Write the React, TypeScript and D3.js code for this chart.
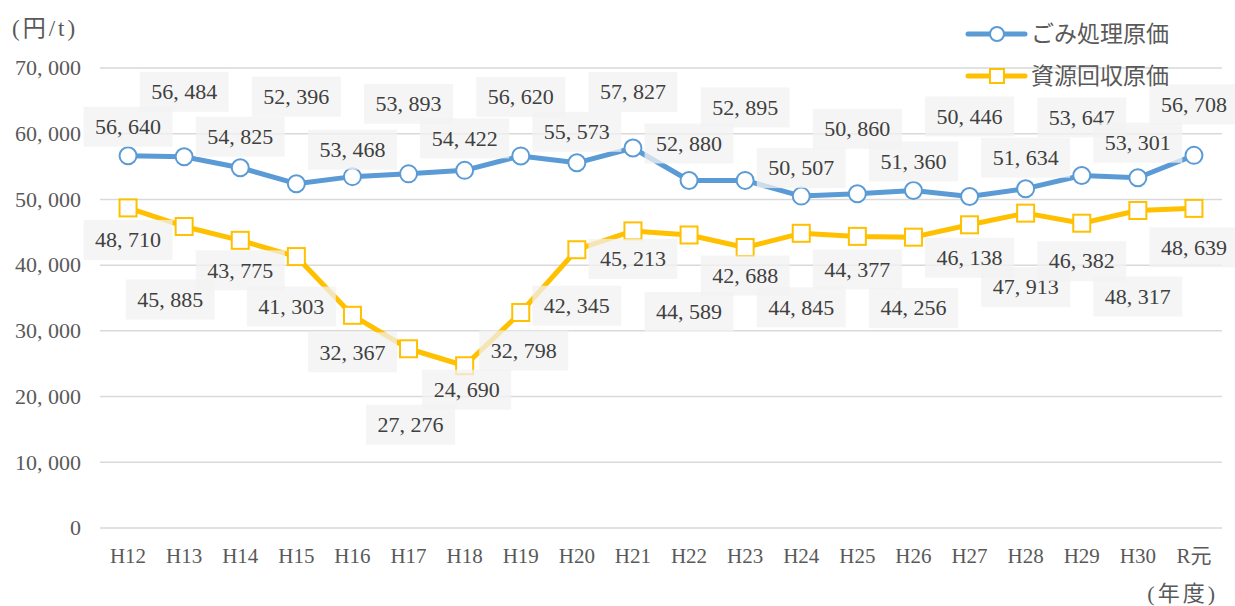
import React, { useEffect, useRef } from 'react';
import * as d3 from 'd3';

const categories = ['H12', 'H13', 'H14', 'H15', 'H16', 'H17', 'H18', 'H19', 'H20', 'H21', 'H22', 'H23', 'H24', 'H25', 'H26', 'H27', 'H28', 'H29', 'H30', 'R元'];
const gomiCost = [56640, 56484, 54825, 52396, 53468, 53893, 54422, 56620, 55573, 57827, 52880, 52895, 50507, 50860, 51360, 50446, 51634, 53647, 53301, 56708];
const shigenCost = [48710, 45885, 43775, 41303, 32367, 27276, 24690, 32798, 42345, 45213, 44589, 42688, 44845, 44377, 44256, 46138, 47913, 46382, 48317, 48639];
const yTicks = [0, 10000, 20000, 30000, 40000, 50000, 60000, 70000];
const seriesNames = ['ごみ処理原価', '資源回収原価'];

// hand-placed data label offsets (px from the marker), like the original chart
const gomiLabelDy = [-29, -65, -31, -87, -27, -70, -32, -59, -31, -56, -37, -73, -28, -65, -29, -80, -31, -58, -35, -51];
const shigenLabelDy = [32, 73, 30, 50, 37, 76, 24, 38, 56, 28, 77, 28, 74, 33, 71, 33, 74, 38, 86, 39];
const shigenLabelDx = [0, -14, 0, -5, 0, 2, 2, 3, 0, 0, 0, 0, 0, 0, 0, 0, 0, 0, 0, 0];

const W = 1235;
const H = 606;
const BLUE = '#5b9bd5';
const YELLOW = '#ffc000';
const TEXT = '#595959';
const GRID = '#d9d9d9';
const NUM_FONT = '"Liberation Serif", "Noto Sans CJK JP", serif';
const CJK_FONT = '"Noto Sans CJK JP", "Noto Sans CJK SC", sans-serif';

const fmt = (v: number) => d3.format(',')(v).replace(/,/g, ', ');

export default function App() {
  const svgRef = useRef<SVGSVGElement>(null);

  useEffect(() => {
    document.body.style.margin = '0';
    if (!svgRef.current) return;
    const svg = d3.select(svgRef.current);
    svg.selectAll('*').remove();

    const x = d3.scalePoint<string>().domain(categories).range([100, 1222]).padding(0.5);
    const y = d3.scaleLinear().domain([0, 70000]).range([528, 68]);

    // grid lines
    svg.append('g')
      .selectAll('line')
      .data(yTicks)
      .enter()
      .append('line')
      .attr('x1', 100)
      .attr('x2', 1222)
      .attr('y1', d => y(d))
      .attr('y2', d => y(d))
      .attr('stroke', GRID)
      .attr('stroke-width', 1.5);

    // y tick labels
    svg.append('g')
      .selectAll('text')
      .data(yTicks)
      .enter()
      .append('text')
      .attr('x', 81)
      .attr('y', d => y(d))
      .attr('dy', '0.33em')
      .attr('text-anchor', 'end')
      .style('font-family', NUM_FONT)
      .style('font-size', '22px')
      .attr('fill', TEXT)
      .text(d => fmt(d));

    // x tick labels
    svg.append('g')
      .selectAll('text')
      .data(categories)
      .enter()
      .append('text')
      .attr('x', d => x(d) || 0)
      .attr('y', 556)
      .attr('dy', '0.33em')
      .attr('text-anchor', 'middle')
      .style('font-family', NUM_FONT)
      .style('font-size', '21px')
      .attr('fill', TEXT)
      .text(d => d);

    svg.append('text')
      .attr('x', 12)
      .attr('y', 28)
      .attr('dy', '0.35em')
      .style('font-family', NUM_FONT)
      .style('font-size', '23px')
      .style('letter-spacing', '3px')
      .attr('fill', TEXT)
      .text('(円/t)');

    svg.append('text')
      .attr('x', 1218)
      .attr('y', 593)
      .attr('dy', '0.35em')
      .attr('text-anchor', 'end')
      .style('font-family', NUM_FONT)
      .style('font-size', '22px')
      .style('letter-spacing', '3px')
      .attr('fill', TEXT)
      .text('(年度)');

    const line = d3.line<number>()
      .x((_, i) => x(categories[i]) || 0)
      .y(d => y(d));

    const series = [
      { values: gomiCost, color: BLUE, shape: 'circle', dy: gomiLabelDy, dx: categories.map(() => 0) },
      { values: shigenCost, color: YELLOW, shape: 'square', dy: shigenLabelDy, dx: shigenLabelDx },
    ];

    series.forEach(s => {
      svg.append('path')
        .datum(s.values)
        .attr('fill', 'none')
        .attr('stroke', s.color)
        .attr('stroke-width', 5)
        .attr('stroke-linejoin', 'round')
        .attr('d', line);

      if (s.shape === 'circle') {
        svg.append('g')
          .selectAll('circle')
          .data(s.values)
          .enter()
          .append('circle')
          .attr('cx', (_, i) => x(categories[i]) || 0)
          .attr('cy', d => y(d))
          .attr('r', 8.5)
          .attr('fill', '#fff')
          .attr('stroke', s.color)
          .attr('stroke-width', 2);
      } else {
        svg.append('g')
          .selectAll('rect')
          .data(s.values)
          .enter()
          .append('rect')
          .attr('x', (_, i) => (x(categories[i]) || 0) - 8.5)
          .attr('y', d => y(d) - 8.5)
          .attr('width', 17)
          .attr('height', 17)
          .attr('fill', '#fff')
          .attr('stroke', s.color)
          .attr('stroke-width', 2);
      }
    });

    // data labels (semi-transparent boxes drawn over the lines)
    series.forEach(s => {
      const lbl = svg.append('g')
        .selectAll('g')
        .data(s.values)
        .enter()
        .append('g')
        .attr('transform', (d, i) => `translate(${(x(categories[i]) || 0) + s.dx[i]},${y(d) + s.dy[i]})`);

      lbl.append('rect')
        .attr('x', -44.5)
        .attr('y', -20)
        .attr('width', 89)
        .attr('height', 40)
        .attr('fill', '#f2f2f2')
        .attr('fill-opacity', 0.75);

      lbl.append('text')
        .attr('text-anchor', 'middle')
        .attr('dy', '0.33em')
        .style('font-family', NUM_FONT)
        .style('font-size', '22px')
        .attr('fill', '#404040')
        .text(d => fmt(d));
    });

    // legend
    const legend = svg.append('g').attr('transform', 'translate(968, 34)');
    series.forEach((s, i) => {
      const item = legend.append('g').attr('transform', `translate(0, ${i * 42})`);
      item.append('line')
        .attr('x1', 0)
        .attr('x2', 57)
        .attr('stroke', s.color)
        .attr('stroke-width', 5)
        .attr('stroke-linecap', 'round');
      if (s.shape === 'circle') {
        item.append('circle')
          .attr('cx', 29)
          .attr('r', 7)
          .attr('fill', '#fff')
          .attr('stroke', s.color)
          .attr('stroke-width', 2);
      } else {
        item.append('rect')
          .attr('x', 22)
          .attr('y', -7)
          .attr('width', 14)
          .attr('height', 14)
          .attr('fill', '#fff')
          .attr('stroke', s.color)
          .attr('stroke-width', 2);
      }
      item.append('text')
        .attr('x', 63)
        .attr('dy', '0.35em')
        .style('font-family', CJK_FONT)
        .style('font-size', '23px')
        .attr('fill', TEXT)
        .text(seriesNames[i]);
    });
  }, []);

  return <svg ref={svgRef} width={W} height={H} style={{ display: 'block', background: '#fff' }} />;
}
